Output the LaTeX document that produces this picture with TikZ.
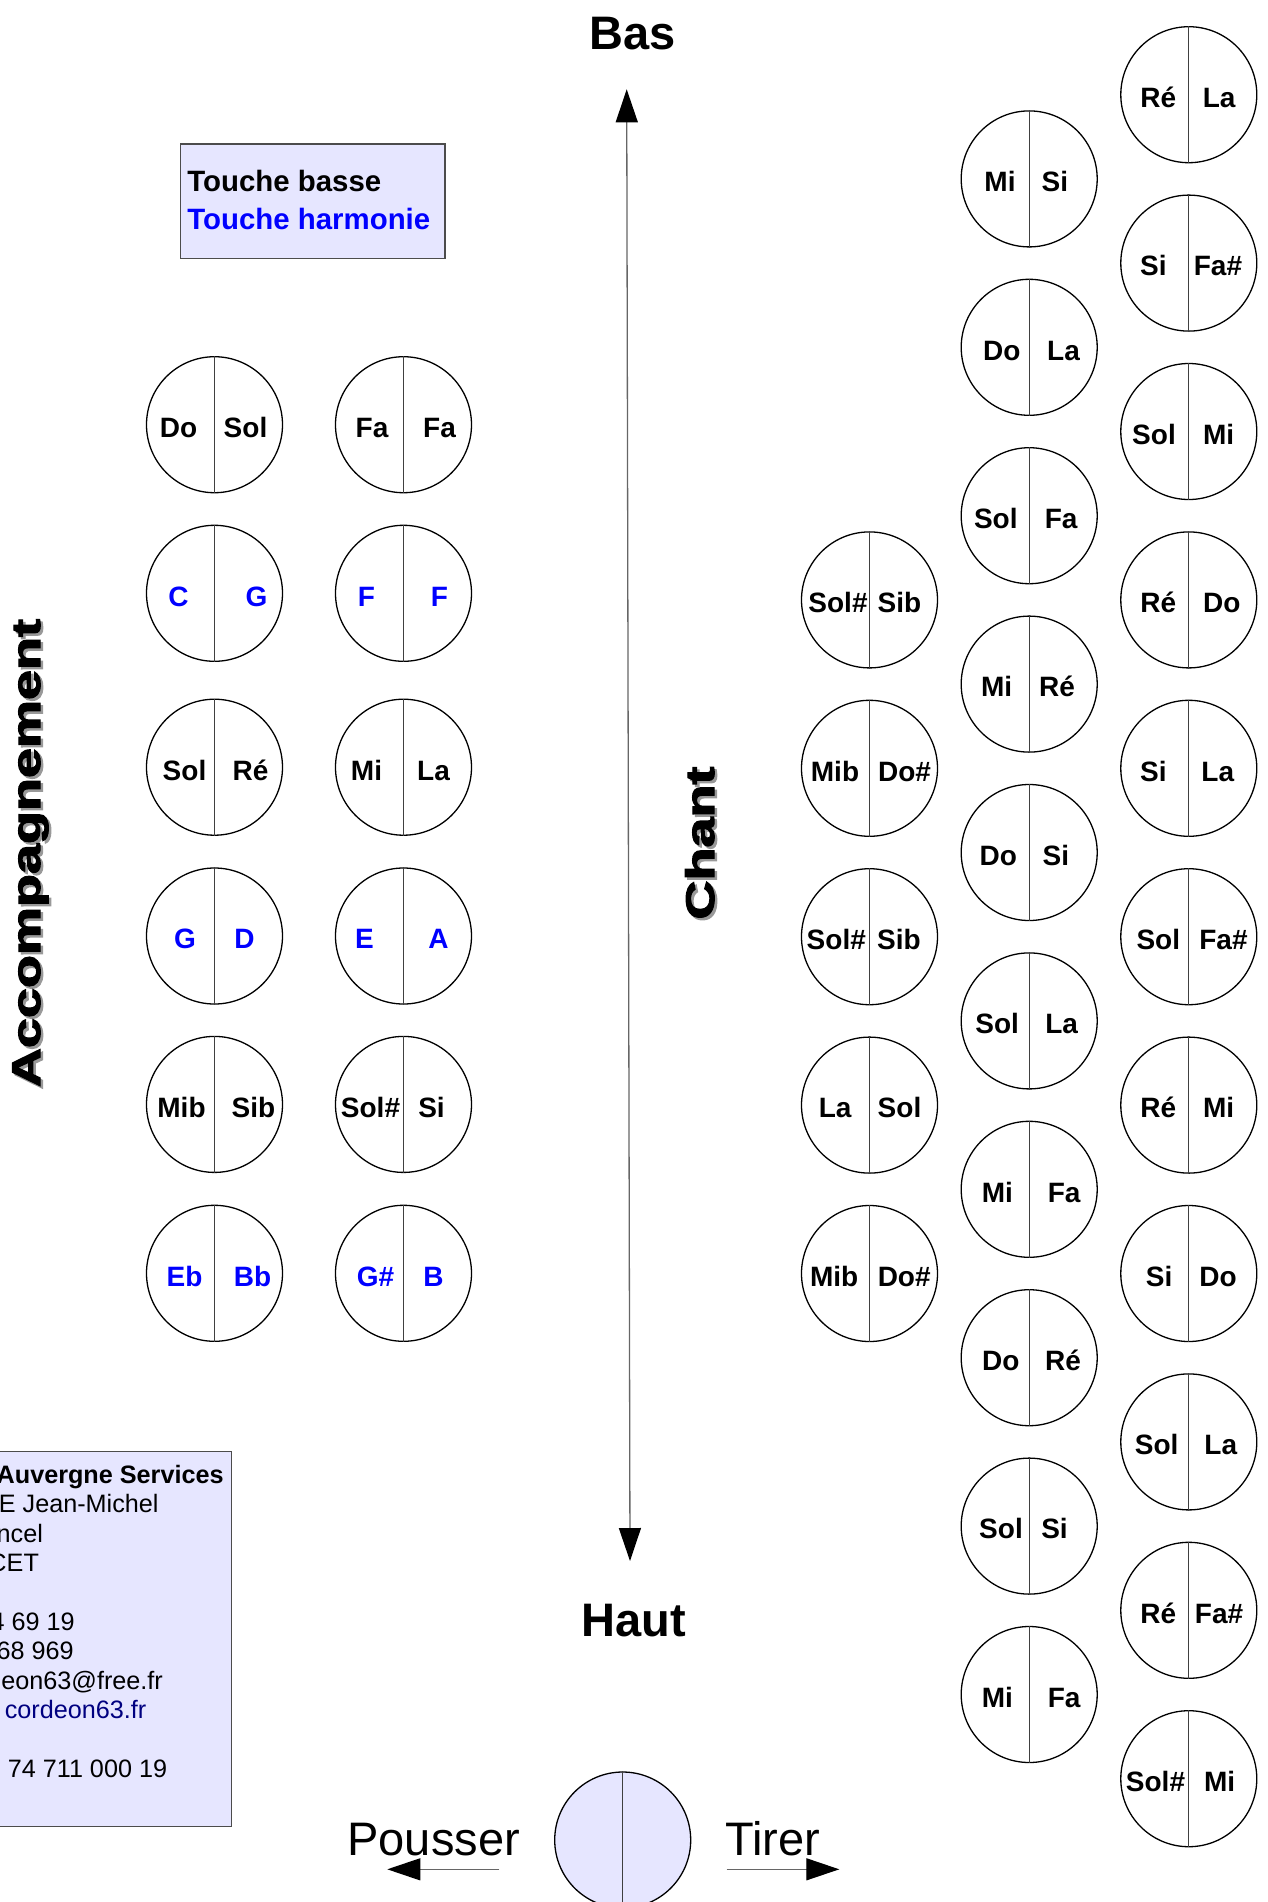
\documentclass[tikz,border=0pt]{standalone}
\usepackage{fontspec}
\setmainfont{Liberation Sans}
\usetikzlibrary{arrows.meta,calc}
\definecolor{lav}{RGB}{230,230,255}
\definecolor{navyurl}{RGB}{0,0,128}
\definecolor{harm}{RGB}{0,0,255}
\newcommand\labfont{\fontsize{14pt}{16pt}\selectfont\bfseries}
\newcommand\legfont{\fontsize{14.7pt}{16pt}\selectfont\bfseries}
\newcommand\infofont{\fontsize{12.6pt}{14pt}\selectfont}
\newcommand\bigfont{\fontsize{23.5pt}{26pt}\selectfont}
\newcommand\heavyfont{\fontsize{20pt}{22pt}\selectfont\bfseries\addfontfeature{FakeBold=2.5}}
\newcommand\btnd[8]{%
  \node[btn] (#1) at (#2,#3) {};
  \draw[divl] (#1.north) -- (#1.south);
  \node[lab,text=#8] (#1l) at ($(#1.center)+(#5,12.8)$) {#4};
  \node[lab,text=#8] (#1r) at ($(#1.center)+(#7,12.8)$) {#6};
}
\tikzset{
  btn/.style={circle, draw=black, line width=0.65pt, minimum size=68pt, inner sep=0pt},
  divl/.style={draw=black!75, line width=0.65pt},
  lab/.style={font=\labfont, inner sep=0pt, anchor=base},
  legtxt/.style={font=\legfont, inner sep=0pt, anchor=base west},
  infotxt/.style={font=\infofont, inner sep=0pt, anchor=base east},
  panel/.style={draw=black!70, fill=lav, line width=0.7pt, inner sep=0pt},
  garrow/.style={draw=black!60, line width=0.65pt},
  >={Triangle[length=16.5pt,width=11pt,color=black]}
}
\begin{document}
\begin{tikzpicture}[x=0.5pt,y=-0.5pt]
\useasboundingbox (0,0) rectangle (1268,1902);
\clip (0,0) rectangle (1268,1902);

% legend box
\node[panel, anchor=north west, minimum width=132.15pt, minimum height=57.2pt] (legend) at (180,143.3) {};
\node[legtxt] (lbasse) at (187,191.7) {Touche basse};
\node[legtxt, text=harm] (lharm) at (187,229.5) {Touche harmonie};

% info box
\node[panel, anchor=north east, minimum width=130pt, minimum height=187.65pt] (info) at (232.3,1450.7) {};
\node[infotxt] (i1) at (224,1483.3) {\bfseries Auvergne Services};
\node[infotxt] (i2) at (159,1512.7) {E Jean-Michel};
\node[infotxt] (i3) at (43.3,1542.1) {ncel};
\node[infotxt] (i4) at (39.3,1571.5) {CET};
\node[infotxt] (i5) at (75,1630.3) {4 69 19};
\node[infotxt] (i6) at (74,1659.7) {68 969};
\node[infotxt] (i7) at (163.3,1689.1) {eon63@free.fr};
\node[infotxt, text=navyurl] (i8) at (146.7,1718.5) {cordeon63.fr};
\node[infotxt] (i9) at (167.5,1777.3) {74 711 000 19};

% vertical titles
\node[rotate=90, anchor=base, inner sep=0pt, font=\heavyfont, text=black!40] (accsh) at (42.5,855.5) {\scalebox{1.35}[1]{Accompagnement}};
\node[rotate=90, anchor=base, inner sep=0pt, font=\heavyfont] (acc) at (40,853) {\scalebox{1.35}[1]{Accompagnement}};
\node[rotate=90, anchor=base, inner sep=0pt, font=\heavyfont, text=black!40] (chsh) at (716.5,845.5) {\scalebox{1.35}[1]{Chant}};
\node[rotate=90, anchor=base, inner sep=0pt, font=\heavyfont] (chant) at (714,843) {\scalebox{1.35}[1]{Chant}};

% central axis
\node[font=\bigfont\bfseries, anchor=base, inner sep=0pt] (bas) at (632.5,49.3) {Bas};
\node[font=\bigfont\bfseries, anchor=base, inner sep=0pt] (haut) at (634,1636.7) {Haut};
\coordinate (axtop) at (626.7,89.3);
\coordinate (axbot) at (630,1561);
\draw[garrow,<->] (axtop) -- (axbot);

% accompaniment buttons
\btnd{a1}{214.5}{424.7}{Do}{-36}{Sol}{31}{black}
\btnd{a2}{403.5}{424.7}{Fa}{-31.5}{Fa}{36}{black}
\btnd{a3}{214.5}{593.3}{C}{-36}{G}{42}{harm}
\btnd{a4}{403.5}{593.3}{F}{-37}{F}{36}{harm}
\btnd{a5}{214.5}{767.2}{Sol}{-30}{Ré}{36}{black}
\btnd{a6}{403.5}{767.2}{Mi}{-37}{La}{30}{black}
\btnd{a7}{214.5}{936}{G}{-29.5}{D}{30}{harm}
\btnd{a8}{403.5}{936}{E}{-39}{A}{35}{harm}
\btnd{a9}{214.5}{1104.4}{Mib}{-33}{Sib}{39}{black}
\btnd{a10}{403.5}{1104.4}{Sol\#}{-33}{Si}{28}{black}
\btnd{a11}{214.5}{1273.3}{Eb}{-30}{Bb}{38}{harm}
\btnd{a12}{403.5}{1273.3}{G\#}{-28}{B}{30}{harm}

% chant: left column
\btnd{l0}{869.5}{599.9}{Sol\#}{-31.5}{Sib}{30}{black}
\btnd{l1}{869.5}{768.3}{Mib}{-34.5}{Do\#}{35}{black}
\btnd{l2}{869.5}{936.7}{Sol\#}{-33.2}{Sib}{29.5}{black}
\btnd{l3}{869.5}{1105.1}{La}{-34.3}{Sol}{30}{black}
\btnd{l4}{869.5}{1273.5}{Mib}{-35.3}{Do\#}{34.7}{black}

% chant: middle column
\btnd{m0}{1029.2}{178.9}{Mi}{-29.2}{Si}{25.7}{black}
\btnd{m1}{1029.2}{347.3}{Do}{-27.5}{La}{34.3}{black}
\btnd{m2}{1029.2}{515.7}{Sol}{-33.4}{Fa}{32}{black}
\btnd{m3}{1029.2}{684.1}{Mi}{-32.6}{Ré}{27.8}{black}
\btnd{m4}{1029.2}{852.5}{Do}{-31}{Si}{26.7}{black}
\btnd{m5}{1029.2}{1020.9}{Sol}{-32}{La}{32.5}{black}
\btnd{m6}{1029.2}{1189.3}{Mi}{-31.8}{Fa}{35}{black}
\btnd{m7}{1029.2}{1357.7}{Do}{-28.3}{Ré}{33.8}{black}
\btnd{m8}{1029.2}{1526.1}{Sol}{-28.2}{Si}{25.3}{black}
\btnd{m9}{1029.2}{1694.5}{Mi}{-31.8}{Fa}{35}{black}

% chant: right column
\btnd{r0}{1188.8}{94.7}{Ré}{-30.5}{La}{30.3}{black}
\btnd{r1}{1188.8}{263.1}{Si}{-35.5}{Fa\#}{29.2}{black}
\btnd{r2}{1188.8}{431.5}{Sol}{-34.8}{Mi}{29.8}{black}
\btnd{r3}{1188.8}{599.9}{Ré}{-30.5}{Do}{33}{black}
\btnd{r4}{1188.8}{768.3}{Si}{-35.5}{La}{29}{black}
\btnd{r5}{1188.8}{936.7}{Sol}{-30.5}{Fa\#}{34.7}{black}
\btnd{r6}{1188.8}{1105.1}{Ré}{-30.5}{Mi}{29.8}{black}
\btnd{r7}{1188.8}{1273.5}{Si}{-29.7}{Do}{29.2}{black}
\btnd{r8}{1188.8}{1441.9}{Sol}{-32.2}{La}{32}{black}
\btnd{r9}{1188.8}{1610.3}{Ré}{-30.5}{Fa\#}{30.3}{black}
\btnd{r10}{1188.8}{1778.7}{Sol\#}{-33.3}{Mi}{30.8}{black}

% bottom legend: push / pull
\node[btn, fill=lav] (pp) at (622.7,1840) {};
\draw[divl] (pp.north) -- (pp.south);
\node[font=\bigfont, anchor=base west, inner sep=0pt] (pousser) at (347,1855) {Pousser};
\node[font=\bigfont, anchor=base west, inner sep=0pt] (tirer) at (725,1855) {Tirer};
\coordinate (pA) at (499.3,1869.3);
\coordinate (pB) at (387.3,1869.3);
\coordinate (tA) at (726.7,1869.3);
\coordinate (tB) at (839.3,1869.3);
\draw[garrow,->] (pA) -- (pB);
\draw[garrow,->] (tA) -- (tB);
\end{tikzpicture}
\end{document}
